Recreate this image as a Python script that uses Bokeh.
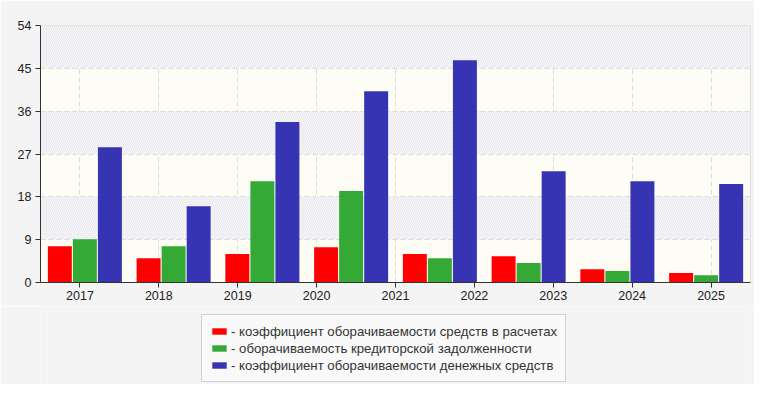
from bokeh.plotting import figure
from bokeh.models import FactorRange, Range1d, Legend, LegendItem, FixedTicker
from bokeh.layouts import column
from bokeh.transform import dodge
from bokeh.embed import file_html
from bokeh.resources import INLINE

# x-axis labels (9 labels) and the 8 data groups drawn over the same span
years = ["2017", "2018", "2019", "2020", "2021", "2022", "2023", "2024", "2025"]
groups = ["g1", "g2", "g3", "g4", "g5", "g6", "g7", "g8"]

receivables_turnover = [7.6, 5.1, 6.0, 7.4, 6.0, 5.5, 2.8, 2.0]
payables_turnover = [9.1, 7.6, 21.3, 19.2, 5.1, 4.1, 2.4, 1.5]
cash_turnover = [28.4, 16.0, 33.7, 40.2, 46.7, 23.4, 21.3, 20.7]

y_ticks = [0, 9, 18, 27, 36, 45, 54]
band_ticks = [-9] + y_ticks  # shifts the band parity so 0-9 is hatched

series_labels = [
    "- коэффициент оборачиваемости средств в расчетах",
    "- оборачиваемость кредиторской задолженности",
    "- коэффициент оборачиваемости денежных средств",
]
colors = ["#ff0000", "#35a935", "#3634b3"]

FONT = "Liberation Sans"
BG = "#f4f4f4"

p = figure(
    width=754, height=306,
    x_range=FactorRange(*years),
    y_range=Range1d(0, 54),
    output_backend="svg", toolbar_location=None,
    min_border_left=40, min_border_right=4, min_border_top=25, min_border_bottom=24,
)
p.extra_x_ranges = {"grp": FactorRange(*groups)}

p.background_fill_color = "#fdfdf6"
p.border_fill_color = BG
p.outline_line_color = "#dddddd"

source = dict(g=groups, r=receivables_turnover, p=payables_turnover, c=cash_turnover)
for key, off, col in [("r", -0.282, colors[0]), ("p", 0.0, colors[1]), ("c", 0.282, colors[2])]:
    p.vbar(x=dodge("g", off, range=p.extra_x_ranges["grp"]), top=key, width=0.27,
           source=source, x_range_name="grp", fill_color=col, line_color=None)

# axes
p.yaxis.ticker = FixedTicker(ticks=y_ticks)
for ax in (p.xaxis[0], p.yaxis[0]):
    ax.axis_line_color = "#333333"
    ax.major_tick_line_color = "#333333"
    ax.major_tick_out = 5
    ax.major_tick_in = 0
    ax.minor_tick_line_color = None
    ax.major_label_text_font = FONT
    ax.major_label_text_font_size = "12.5px"
    ax.major_label_text_color = "#222222"
p.xaxis.major_label_standoff = 3
p.yaxis.major_label_standoff = 4

# grids
for g in (p.xgrid[0], p.ygrid[0]):
    g.grid_line_color = "#dcdcdc"
    g.grid_line_dash = "5 3"
    g.grid_line_width = 1
p.ygrid.ticker = FixedTicker(ticks=band_ticks)
p.ygrid.bounds = (band_ticks[0], band_ticks[-1])
p.ygrid.band_fill_color = "#f8f8fa"
p.ygrid.band_fill_alpha = 1.0
p.ygrid.band_hatch_pattern = "right_diagonal_line"
p.ygrid.band_hatch_color = "#e6e6ee"
p.ygrid.band_hatch_scale = 4
p.ygrid.band_hatch_weight = 1

# legend strip below the chart
p2 = figure(
    width=754, height=78,
    x_range=Range1d(0, 1), y_range=Range1d(0, 1),
    output_backend="svg", toolbar_location=None,
    x_axis_location=None, y_axis_location=None,
    min_border_left=0, min_border_right=0, min_border_top=0, min_border_bottom=0,
)
p2.grid.visible = False
p2.outline_line_color = None
p2.background_fill_color = BG
p2.border_fill_color = BG

swatches = []
for col in colors:
    # placed outside the visible range: only their legend swatches show
    swatches.append(p2.vbar(x=[50], bottom=[50], top=[60], width=0.1,
                            fill_color=col, line_color=None))

legend = Legend(
    items=[LegendItem(label=series_labels[i], renderers=[swatches[i]]) for i in range(3)],
    location=(161, 2),
    orientation="vertical",
    label_text_font=FONT,
    label_text_font_size="13.2px",
    label_text_color="#333333",
    glyph_width=18, glyph_height=8,
    label_height=16, spacing=1, padding=8, label_standoff=3,
    background_fill_color="#f9f9f9", background_fill_alpha=1.0,
    border_line_color="#aaaaaa",
    margin=0,
)
p2.add_layout(legend)

open("out.html", "w").write(file_html(column(p, p2, spacing=0), INLINE))
